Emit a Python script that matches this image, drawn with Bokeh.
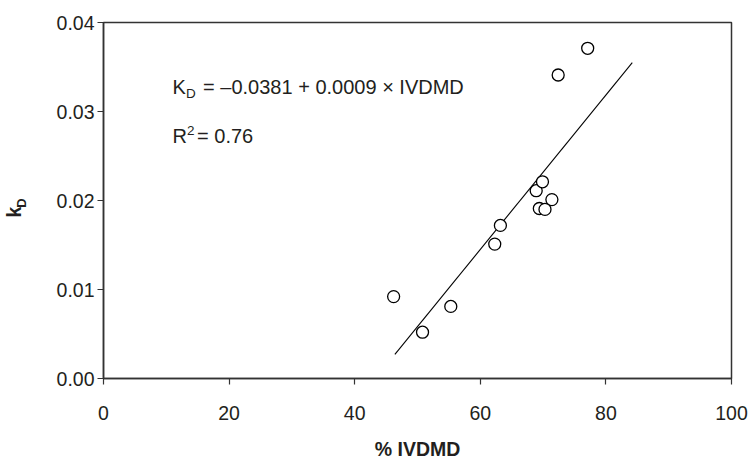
import math
from bokeh.plotting import figure
from bokeh.layouts import row
from bokeh.models import Range1d, FixedTicker, PrintfTickFormatter, Label, ColumnDataSource
from bokeh.embed import file_html
from bokeh.resources import INLINE

# ---- data ----
ivdmd = [46.2, 50.8, 55.3, 62.3, 63.2, 68.9, 69.9, 71.4, 69.4, 70.3, 72.4, 77.1]
kd = [0.0092, 0.0052, 0.0081, 0.0151, 0.0172, 0.0211, 0.0221, 0.0201, 0.0191, 0.0190, 0.0341, 0.0371]
fit_x = [46.4, 84.2]
fit_y = [0.0027, 0.0355]
x_ticks = [0, 20, 40, 60, 80, 100]
y_ticks = [0.00, 0.01, 0.02, 0.03, 0.04]

TXT = "#231f20"
AX = "#333333"
FONT = "Liberation Sans"

W_LEFT = 40
H = 462
TOP, BOTTOM = 22, 78

p = figure(width=749 - W_LEFT, height=H, output_backend="svg", toolbar_location=None,
           x_range=Range1d(0, 100), y_range=Range1d(0, 0.04),
           min_border_left=103 - W_LEFT, min_border_right=18, min_border_top=TOP, min_border_bottom=BOTTOM)
p.xgrid.visible = False
p.ygrid.visible = False
p.outline_line_color = AX
p.outline_line_width = 1.5
p.background_fill_color = "white"
p.border_fill_color = "white"

for ax in (p.xaxis[0], p.yaxis[0]):
    ax.axis_line_color = AX
    ax.axis_line_width = 1.5
    ax.major_tick_line_color = AX
    ax.major_tick_line_width = 1.2
    ax.major_tick_out = 6
    ax.major_tick_in = 0
    ax.minor_tick_line_color = None
    ax.major_label_text_font = FONT
    ax.major_label_text_font_size = "19.5px"
    ax.major_label_text_color = TXT

p.xaxis.ticker = FixedTicker(ticks=x_ticks)
p.yaxis.ticker = FixedTicker(ticks=y_ticks)
p.yaxis.formatter = PrintfTickFormatter(format="%.2f")
p.xaxis.major_label_standoff = 21
p.yaxis.major_label_standoff = 3

p.xaxis.axis_label = "% IVDMD"
p.xaxis.axis_label_text_font = FONT
p.xaxis.axis_label_text_font_size = "19.5px"
p.xaxis.axis_label_text_font_style = "bold"
p.xaxis.axis_label_text_color = TXT
p.xaxis.axis_label_standoff = 15

# regression line and points
p.line(fit_x, fit_y, line_color="black", line_width=1.1)
src = ColumnDataSource(dict(x=ivdmd, y=kd))
p.scatter("x", "y", source=src, size=12, fill_color="white", line_color="black", line_width=1.3)

def lab(fig, x, y, text, size, xo=0, yo=0, bold=False, angle=0.0, align="left", baseline="alphabetic"):
    fig.add_layout(Label(x=x, y=y, x_offset=xo, y_offset=yo, text=text,
                         text_font=FONT, text_font_size=size, text_color=TXT,
                         text_font_style="bold" if bold else "normal",
                         text_align=align, text_baseline=baseline, angle=angle))

# equation annotation
lab(p, 11.0, 0.0328, "K", "20px")
lab(p, 11.0, 0.0328, "D", "13.5px", xo=13.5, yo=-7)
lab(p, 11.0, 0.0328, "= \u20130.0381 + 0.0009 \u00d7 IVDMD", "20px", xo=30.5)
lab(p, 11.0, 0.0273, "R", "20px")
lab(p, 11.0, 0.0273, "2", "13.5px", xo=14.5, yo=5.5)
lab(p, 11.0, 0.0273, "= 0.76", "20px", xo=24.5)

# narrow strip on the left holding the y-axis title k_D; same vertical scale as the plot
yl = figure(width=W_LEFT, height=H, output_backend="svg", toolbar_location=None,
            x_range=Range1d(0, W_LEFT), y_range=Range1d(0, 0.04),
            x_axis_location=None, y_axis_location=None,
            min_border_left=0, min_border_right=0, min_border_top=TOP, min_border_bottom=BOTTOM)
yl.xgrid.visible = False
yl.ygrid.visible = False
yl.outline_line_color = None
yl.background_fill_color = "white"
yl.border_fill_color = "white"
lab(yl, 13.5, 0.0187, "k", "19.5px", bold=True, angle=math.pi / 2, align="center", baseline="middle")
lab(yl, 21.0, 0.0197, "D", "13px", bold=True, angle=math.pi / 2, align="center", baseline="middle")

layout = row(yl, p, spacing=0)
open("out.html", "w").write(file_html(layout, INLINE))
